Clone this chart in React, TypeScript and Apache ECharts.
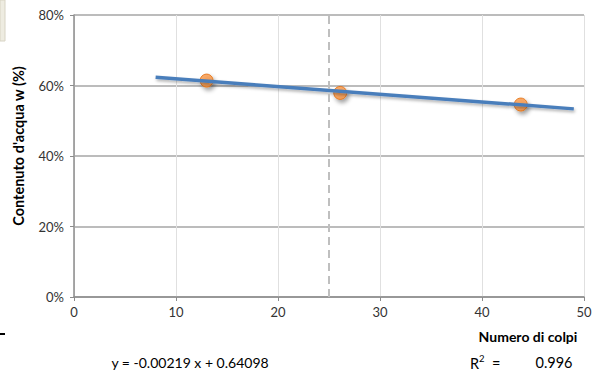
import React, { useEffect, useRef } from "react";
import * as echarts from "echarts";

const pointX = [13, 26.1, 43.8];
const pointY = [0.614, 0.579, 0.546];
const trendX = [8, 49];
const trendY = [0.6235, 0.5337];
const refX = 25;
const yTicks = [0, 0.2, 0.4, 0.6, 0.8];
const xTicks = [0, 10, 20, 30, 40, 50];
const yTitle = "Contenuto d'acqua w (%)";
const xTitle = "Numero di colpi";
const equationText = "y = -0.00219 x + 0.64098";
const r2Value = "0.996";

const FONT = "Lato, 'Open Sans', sans-serif";

export default function App() {
  const ref = useRef<HTMLDivElement>(null);
  useEffect(() => {
    if (!ref.current) return;
    document.body.style.margin = "0";
    const chart = echarts.init(ref.current, null, { renderer: "svg" });
    chart.setOption({
      animation: false,
      textStyle: { fontFamily: FONT },
      grid: { left: 74, right: 13, top: 15, bottom: 79 },
      xAxis: {
        type: "value",
        min: xTicks[0],
        max: xTicks[xTicks.length - 1],
        interval: 10,
        axisLine: { show: true, lineStyle: { color: "#8c8c8c", width: 1.5 } },
        axisTick: { show: true, length: 4, lineStyle: { color: "#8c8c8c" } },
        axisLabel: { color: "#333", fontSize: 13, margin: 8, fontFamily: FONT },
        splitLine: { show: true, lineStyle: { color: "#e0e0e0", width: 1 } },
      },
      yAxis: {
        type: "value",
        min: yTicks[0],
        max: yTicks[yTicks.length - 1],
        interval: 0.2,
        axisLine: { show: true, lineStyle: { color: "#8c8c8c", width: 1.5 } },
        axisTick: { show: true, length: 4, lineStyle: { color: "#8c8c8c" } },
        axisLabel: {
          color: "#333",
          fontSize: 13,
          margin: 10,
          fontFamily: FONT,
          formatter: (v: number) => Math.round(v * 100) + "%",
        },
        splitLine: { show: true, lineStyle: { color: "#a6a6a6", width: 1.5 } },
      },
      series: [
        {
          type: "scatter",
          z: 2,
          data: pointX.map((x, i) => [x, pointY[i]]),
          symbol: "circle",
          symbolSize: 13,
          itemStyle: {
            color: "#F79646",
            borderColor: "#E46C0A",
            borderWidth: 1,
            shadowBlur: 4,
            shadowOffsetX: 2,
            shadowOffsetY: 3,
            shadowColor: "rgba(0,0,0,0.45)",
          },
          markLine: {
            silent: true,
            symbol: "none",
            label: { show: false },
            lineStyle: { color: "#bfbfbf", type: [8, 5], width: 2 },
            data: [
              [
                { coord: [refX, yTicks[0]] },
                { coord: [refX, yTicks[yTicks.length - 1]] },
              ],
            ],
          },
        },
        {
          type: "line",
          z: 3,
          data: trendX.map((x, i) => [x, trendY[i]]),
          showSymbol: false,
          symbol: "none",
          lineStyle: {
            color: "#4A7EBB",
            width: 3.5,
            shadowBlur: 3,
            shadowOffsetX: 1,
            shadowOffsetY: 2,
            shadowColor: "rgba(0,0,0,0.3)",
          },
        },
      ],
      graphic: [
        { type: "rect", shape: { x: 0, y: 0, width: 5, height: 41 }, style: { fill: "#EEECE1", stroke: "#d8d4c4", lineWidth: 1 } },
        { type: "rect", shape: { x: 0, y: 333, width: 5, height: 2 }, style: { fill: "#000" } },
        {
          type: "text",
          x: 18,
          y: 146,
          rotation: Math.PI / 2,
          style: {
            text: yTitle,
            font: "bold 14.5px " + FONT,
            fill: "#000",
            align: "center",
            verticalAlign: "middle",
          },
        },
        {
          type: "text",
          x: 528,
          y: 336,
          style: {
            text: xTitle,
            font: "bold 14px " + FONT,
            fill: "#000",
            align: "center",
            verticalAlign: "middle",
          },
        },
        {
          type: "text",
          x: 190,
          y: 362,
          style: {
            text: equationText,
            font: "14px " + FONT,
            fill: "#000",
            align: "center",
            verticalAlign: "middle",
          },
        },
        {
          type: "text",
          x: 470,
          y: 362,
          style: {
            text: "{r|R}{s|2}{r|  =}",
            rich: {
              r: { fontSize: 14.5, fontFamily: FONT, fill: "#000", verticalAlign: "bottom" },
              s: { fontSize: 9.5, fontFamily: FONT, fill: "#000", verticalAlign: "top", padding: [0, 0, 8, 0] },
            },
            verticalAlign: "middle",
          },
        },
        {
          type: "text",
          x: 554,
          y: 362,
          style: {
            text: r2Value,
            font: "14.5px " + FONT,
            fill: "#000",
            align: "center",
            verticalAlign: "middle",
          },
        },
      ],
    });
    return () => chart.dispose();
  }, []);
  return <div ref={ref} style={{ width: 597, height: 376 }} />;
}
